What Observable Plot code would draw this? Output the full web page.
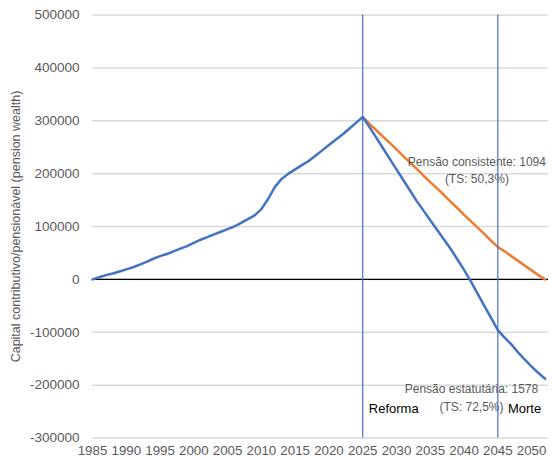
<!DOCTYPE html>
<html>
<head>
<meta charset="utf-8">
<script src="https://cdn.jsdelivr.net/npm/d3@7"></script>
<script src="https://cdn.jsdelivr.net/npm/@observablehq/plot@0.6"></script>
<style>
  html, body { margin: 0; padding: 0; background: #fff; }
</style>
</head>
<body>
<div id="chart"></div>
<script>
// Accumulation phase (contributions), 1985–2025
const accYears = [1985,1986,1987,1988,1989,1990,1991,1992,1993,1994,1995,1996,1997,1998,1999,2000,2001,2002,2003,2004,2005,2006,2007,2008,2009,2010,2011,2012,2013,2014,2015,2016,2017,2018,2019,2020,2021,2022,2023,2024,2025];
const accValues = [0,4000,8000,11000,15000,19000,23000,28000,33000,39000,44000,48000,53000,58000,63000,69000,75000,80000,85000,90000,95000,100000,107000,114000,121000,133000,152000,175000,190000,200000,208000,216000,224000,234000,244000,254000,264000,274000,285000,296000,307000];

// Decumulation phase, 2025–2052
const drawYears = [2025,2026,2027,2028,2029,2030,2031,2032,2033,2034,2035,2036,2037,2038,2039,2040,2041,2042,2043,2044,2045,2046,2047,2048,2049,2050,2051,2052];
const statutoryValues = [307000,288000,268000,248000,228000,208000,188000,168000,148000,130000,112000,94000,76000,58000,38000,18000,-4000,-27000,-50000,-73000,-96000,-110000,-123000,-138000,-152000,-165000,-177000,-188000];
const consistentValues = [307000,294000,282000,270000,258000,246000,233000,221000,209000,196000,184000,172000,160000,147000,135000,122000,110000,98000,86000,73000,61000,53000,44000,35000,26000,17000,8000,0];

// Axes
const xTicks = [1985,1990,1995,2000,2005,2010,2015,2020,2025,2030,2035,2040,2045,2050];
const yTicks = [-300000,-200000,-100000,0,100000,200000,300000,400000,500000];
const yLabel = "Capital contributivo/pensionável (pension wealth)";

// Events and annotations
const eventYears = [2025, 2045];
const eventLabels = ["Reforma", "Morte"];
const eventLabelValue = [-244000, -244000];
const eventLabelYear = [2025.9, 2046.5];
const noteTexts = ["Pensão consistente: 1094\n(TS: 50,3%)", "Pensão estatutária: 1578\n(TS: 72,5%)"];
const noteYears = [2041.9, 2041.1];
const noteValues = [209000, -221500];

const statutory = accYears.map((y, i) => ({year: y, value: accValues[i]}))
  .concat(drawYears.slice(1).map((y, i) => ({year: y, value: statutoryValues[i + 1]})));
const consistent = drawYears.map((y, i) => ({year: y, value: consistentValues[i]}));
const events = eventLabels.map((t, i) => ({text: t, year: eventLabelYear[i], value: eventLabelValue[i]}));
const notes = noteTexts.map((t, i) => ({text: t, year: noteYears[i], value: noteValues[i]}));

const chart = Plot.plot({
  width: 552,
  height: 460,
  marginLeft: 92,
  marginRight: 4,
  marginTop: 14.5,
  marginBottom: 22.5,
  style: {fontFamily: "'Liberation Sans', Arial, sans-serif", fontSize: "13px", color: "#595959", background: "#fff"},
  x: {domain: [1985, 2052.5]},
  y: {domain: [-300000, 500000]},
  marks: [
    Plot.gridY(yTicks, {stroke: "#d9d9d9", strokeOpacity: 1, strokeWidth: 1.5}),
    Plot.axisY(yTicks, {tickSize: 0, tickPadding: 13, label: null, tickFormat: d => String(d), fill: "#595959", fontSize: 13.5}),
    Plot.axisX(xTicks, {tickSize: 0, tickPadding: 8, label: null, tickFormat: d => String(d), fill: "#595959", fontSize: 13.3}),
    Plot.text([yLabel], {frameAnchor: "left", textAnchor: "middle", rotate: -90, dx: -77, fill: "#595959", fontSize: 12.5}),
    Plot.ruleY([0], {stroke: "#000", strokeWidth: 1.3}),
    Plot.line(consistent, {x: "year", y: "value", stroke: "#ed7d31", strokeWidth: 2.5}),
    Plot.line(statutory, {x: "year", y: "value", stroke: "#4472c4", strokeWidth: 2.5}),
    Plot.text(notes, {x: "year", y: "value", text: "text", fill: "#595959", fontSize: 12, lineHeight: 1.45, textAnchor: "middle"}),
    Plot.ruleX(eventYears, {stroke: "#4472c4", strokeWidth: 1.2}),
    Plot.text(events, {x: "year", y: "value", text: "text", fill: "#000", fontSize: 13, textAnchor: "start"})
  ]
});
document.getElementById("chart").appendChild(chart);
</script>
</body>
</html>
